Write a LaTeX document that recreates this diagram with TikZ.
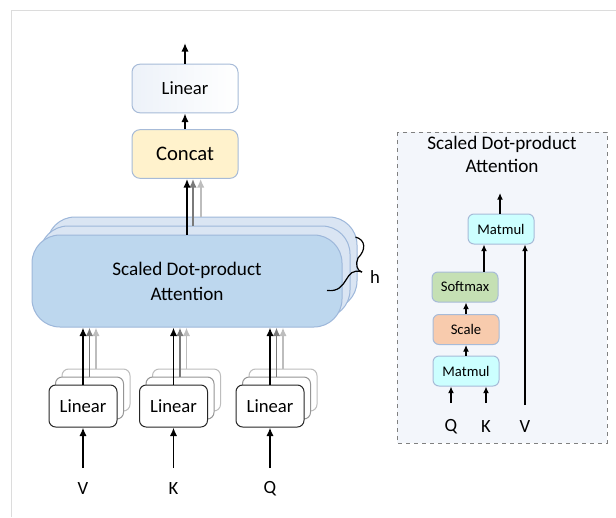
\documentclass[tikz,border=0pt]{standalone}
\usepackage{fontspec}
\setmainfont{Carlito}
\usetikzlibrary{arrows.meta,calc}

\definecolor{framegray}{HTML}{DCDCDC}
\definecolor{edgeblue}{HTML}{A7BBD8}
\definecolor{sdpafront}{HTML}{BDD7EE}
\definecolor{sdpaback}{HTML}{DAE5F3}
\definecolor{sdpaedge}{HTML}{9DB7DA}
\definecolor{concatfill}{HTML}{FFF2CC}
\definecolor{linfill}{HTML}{EDF2F9}
\definecolor{matfill}{HTML}{CCFFFF}
\definecolor{softfill}{HTML}{C5E0B4}
\definecolor{scalefill}{HTML}{F8CBAD}
\definecolor{grayA}{HTML}{7A7A7A}
\definecolor{grayB}{HTML}{BDBDBD}
\definecolor{panelfill}{HTML}{F3F6FB}

\tikzset{
  bigbox/.style={rounded corners=6pt, draw=edgeblue, line width=0.75pt,
    minimum width=79.5pt, minimum height=36.5pt, inner sep=0pt},
  sdpabox/.style={rounded corners=21pt, draw=sdpaedge, line width=0.75pt,
    minimum width=232.5pt, minimum height=69pt, inner sep=0pt},
  linbox/.style={rounded corners=5pt, draw=black!85, line width=0.75pt, fill=white,
    minimum width=51pt, minimum height=31.5pt, inner sep=0pt,
    font=\fontsize{14}{17}\selectfont},
  linback/.style={linbox, draw=#1},
  opbox/.style={rounded corners=4.5pt, draw=edgeblue, line width=0.75pt,
    minimum width=49.5pt, minimum height=22.5pt, inner sep=0pt,
    font=\fontsize{11}{13}\selectfont},
  arr/.style={-{Latex[length=6.5pt,width=5.5pt]}, line width=1.25pt},
  arrsmall/.style={-{Latex[length=5pt,width=4.5pt]}, line width=1.1pt},
  lbl/.style={font=\fontsize{14}{17}\selectfont, inner sep=0pt}
}

\begin{document}
\begin{tikzpicture}[x=0.75pt,y=-0.75pt]
\useasboundingbox (0,0) rectangle (616,517);
\fill[white] (0,0) rectangle (616,517);
\draw[framegray, line width=1.2pt] (11.5,517) -- (11.5,10.5) -- (616,10.5);

% detail of one attention head (panel first, contents on top)
\fill[panelfill] (397,132) rectangle (607,443);
\draw[black!50, dashed, line width=0.75pt] (397,132) rectangle (607,443);
\node[align=center, font=\fontsize{14.4}{17.25}\selectfont, inner sep=0pt]
  (ptitle) at (502,154.5) {Scaled Dot-product\\Attention};
\node[opbox, fill=matfill] (mm2) at (501,229) {Matmul};
\node[opbox, fill=softfill] (soft) at (465,287) {Softmax};
\node[opbox, fill=scalefill] (scl) at (466,329.5) {Scale};
\node[opbox, fill=matfill] (mm1) at (466,371) {Matmul};
\node[lbl] (pq) at (451,427) {Q};
\node[lbl] (pk) at (486,427) {K};
\node[lbl] (pv) at (525,427) {V};
\coordinate (pqs) at (451,403);
\coordinate (pks) at (486,403);
\coordinate (pvs) at (525,405);
\coordinate (pout) at (500,193);
\coordinate (psm) at (484,0);

\draw[arrsmall] (psm |- soft.north) -- (psm |- mm2.south);
\draw[arrsmall] (pqs) -- (pqs |- mm1.south);
\draw[arrsmall] (pks) -- (pks |- mm1.south);
\draw[arrsmall] (mm1.north) -- (scl.south);
\draw[arrsmall] (scl.north) -- (scl.north |- soft.south);
\draw[arrsmall] (pvs) -- (pvs |- mm2.south);
\draw[arrsmall] (pout |- mm2.north) -- (pout);

% output stage
\node[bigbox, left color=linfill, right color=white, font=\fontsize{14}{17}\selectfont]
  (linout) at (185,88.5) {Linear};
\node[bigbox, fill=concatfill, font=\fontsize{15.5}{18}\selectfont]
  (concat) at (185,154) {Concat};
\coordinate (out) at (185,43);

% stacked attention heads
\node[sdpabox, fill=sdpaback] (sdpa3) at (202,263) {};
\node[sdpabox, fill=sdpaback] (sdpa2) at (195,272) {};
\node[sdpabox, fill=sdpafront, align=center,
  font=\fontsize{14.4}{18.75}\selectfont] (sdpa) at (187,281)
  {Scaled Dot-product\\Attention};

% brace marking h heads
\coordinate (btop) at (355.5,237);
\coordinate (bmid) at (358,258);
\coordinate (btip) at (362,272);
\coordinate (bend) at (327,290.5);
\draw[line width=0.9pt] (btop) .. controls (366,240) and (366,250) .. (bmid)
  .. controls (355,264) and (357,271) .. (btip);
\draw[line width=0.9pt] (btip) .. controls (343,266) and (350,293) .. (bend);
\node[lbl] (hlab) at (375,277) {h};

% linear projections
\foreach \n/\x/\t in {v/83/V, k/173.5/K, q/270/Q}{
  \node[linback=grayB] (\n3) at (\x+13,390) {};
  \node[linback=grayA!80] (\n2) at (\x+6.5,398) {};
  \node[linbox] (\n) at (\x,406) {Linear};
  \node[lbl] (\n in) at (\x,489) {\t};
  \coordinate (\n src) at (\x,468);
  \draw[arr] (\n src) -- (\n.south);
  \draw[arr, grayB] (\n3.north) -- (\n3.north |- sdpa.south);
  \draw[arr, grayA] (\n2.north) -- (\n2.north |- sdpa.south);
  \draw[arr] (\n.north) -- (\n.north |- sdpa.south);
}

% heads into concat, then output
\draw[arr, grayB] ([xshift=-1pt]sdpa3.north) -- ([xshift=-1pt]sdpa3.north |- concat.south);
\draw[arr, grayA] ([xshift=-1.5pt]sdpa2.north) -- ([xshift=-1.5pt]sdpa2.north |- concat.south);
\draw[arr] (sdpa.north) -- (sdpa.north |- concat.south);
\draw[arr] (concat.north) -- (linout.south);
\draw[arr] (linout.north) -- (out);
\end{tikzpicture}
\end{document}
